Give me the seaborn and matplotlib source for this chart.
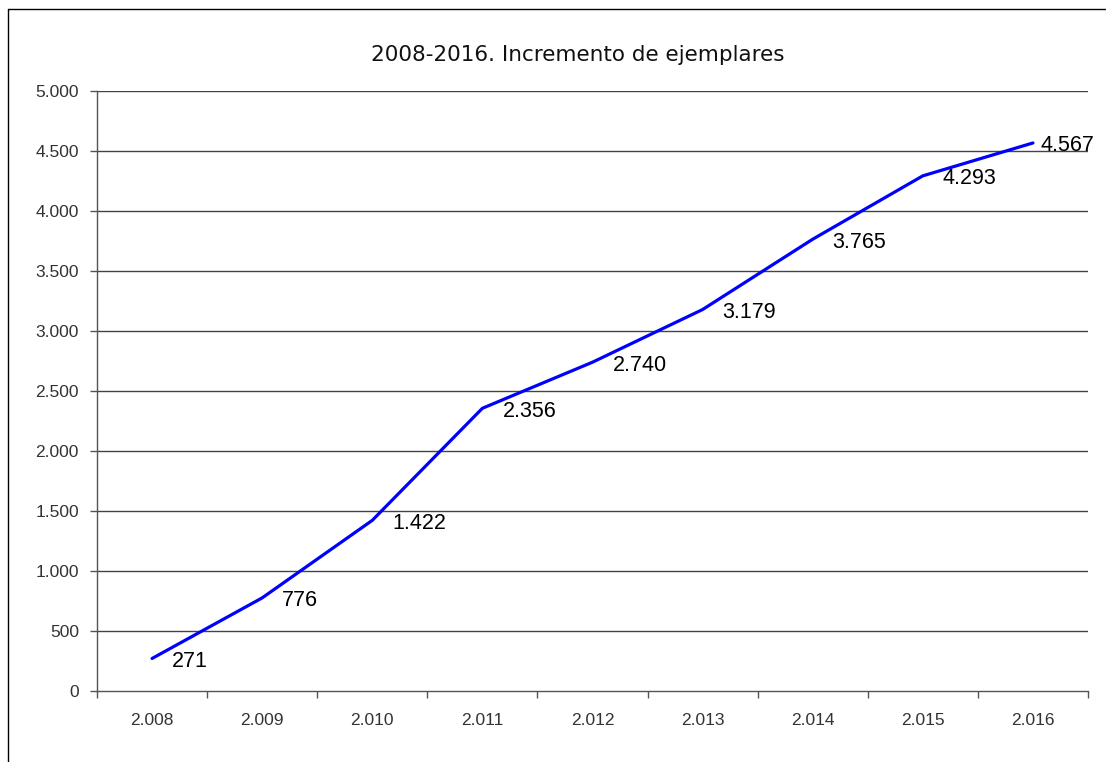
import matplotlib
matplotlib.use("Agg")
import matplotlib.pyplot as plt
from matplotlib.lines import Line2D
from matplotlib.ticker import FixedLocator, FuncFormatter
import seaborn as sns
import pandas as pd

# Data
years = ["2.008", "2.009", "2.010", "2.011", "2.012", "2.013", "2.014", "2.015", "2.016"]
ejemplares = [271, 776, 1422, 2356, 2740, 3179, 3765, 4293, 4567]
title = "2008-2016. Incremento de ejemplares"

df = pd.DataFrame({"idx": range(len(years)), "valor": ejemplares})

sns.set_theme(style="white")
plt.rcParams["font.family"] = ["Liberation Sans", "DejaVu Sans"]

W, H = 1106, 762
fig = plt.figure(figsize=(W / 100, H / 100), dpi=100)
fig.patch.set_facecolor("white")

left, right, top, bottom = 97, 1088, 91, 691
ax = fig.add_axes([left / W, 1 - bottom / H, (right - left) / W, (bottom - top) / H])

sns.lineplot(data=df, x="idx", y="valor", ax=ax, color="#0000FF", linewidth=2.3)

ax.set_xlim(-0.5, len(years) - 0.5)
ax.set_ylim(0, 5000)

# Horizontal gridlines
for v in range(500, 5001, 500):
    ax.axhline(v, color="#444444", linewidth=1.0, zorder=0)

# Spines
for s in ["top", "right"]:
    ax.spines[s].set_visible(False)
for s in ["left", "bottom"]:
    ax.spines[s].set_color("#555555")
    ax.spines[s].set_linewidth(1.0)

# Y axis
ax.set_yticks(range(0, 5001, 500))
ax.yaxis.set_major_formatter(FuncFormatter(lambda v, p: f"{int(v):,}".replace(",", ".")))
ax.tick_params(axis="y", which="major", direction="out", length=5, width=1,
               color="#555555", labelsize=12.5, labelcolor="#333333", pad=8, left=True)

# X axis: labels centered, ticks at category boundaries
ax.set_xticks(range(len(years)))
ax.set_xticklabels(years)
ax.xaxis.set_minor_locator(FixedLocator([i - 0.5 for i in range(len(years) + 1)]))
ax.tick_params(axis="x", which="major", length=0, labelsize=12.5, labelcolor="#333333", pad=16)
ax.tick_params(axis="x", which="minor", direction="out", length=5, width=1,
               color="#555555", bottom=True)
ax.set_xlabel("")
ax.set_ylabel("")

# Value labels
for i, v in enumerate(ejemplares):
    dx = 20 if i < len(ejemplares) - 1 else 8
    ax.annotate(f"{v:,}".replace(",", "."), (i, v), xytext=(dx, -3),
                textcoords="offset pixels", ha="left", va="center",
                fontsize=15.5, color="black", annotation_clip=False)

fig.text(578 / W, 1 - 55 / H, title, ha="center", va="center", fontsize=15.5,
         family=["DejaVu Sans"], color="#111111")

# Chart frame (left and top edges)
fig.add_artist(Line2D([8 / W, 8 / W], [0, 1 - 9 / H], transform=fig.transFigure,
                      color="black", linewidth=1.0))
fig.add_artist(Line2D([8 / W, 1], [1 - 9 / H, 1 - 9 / H], transform=fig.transFigure,
                      color="black", linewidth=1.0))

fig.savefig("out.png", dpi=100)
